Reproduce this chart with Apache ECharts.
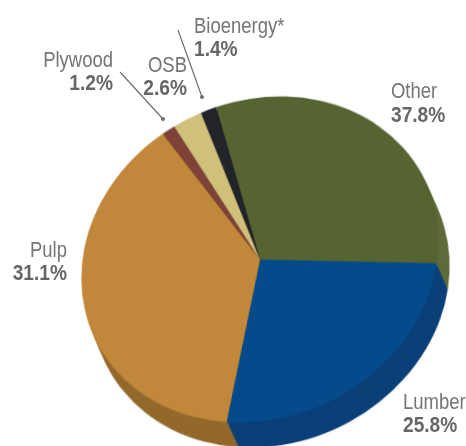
<!DOCTYPE html>
<html><head><meta charset="utf-8">
<style>
html,body{margin:0;padding:0;background:#fff;overflow:hidden;width:466px;height:446px}
#pie{position:absolute;left:0;top:0;width:466px;height:486px;transform-origin:0 0}
#labels{position:absolute;left:0;top:0;width:466px;height:446px}
</style>
<script src="https://cdn.jsdelivr.net/npm/echarts@6/dist/echarts.min.js"></script>
</head><body>
<div id="pie"></div><div id="labels"></div>
<script>
// Slices clockwise, starting with the green one, as drawn in the picture.
const categories = ['Other','Lumber','Pulp','Plywood','OSB','Bioenergy*'];
// Printed on the picture next to each category name
const printedLabels = ['37.8%','25.8%','31.1%','1.2%','2.6%','1.4%'];
// The drawn size of each slice (the green and gold wedges are drawn as each other's printed share)
const drawnValues = [31.1,25.8,37.8,1.2,2.6,1.4];
const topColors = ['#556431','#054a8a','#c1873a','#7e4238','#cfc07a','#23232a'];
const sideColors = ['#5f6b3a','#0a3f78','#93692b','#5f3028','#a89a5c','#16161a'];

// The face is a tilted ellipse: a circle in the pie layer, squashed and sheared by CSS.
const S = 0.9185, C = -0.115;
const SCREEN_CX = 260, SCREEN_CY = 259.5, R = 177.5, SCREEN_DX = 11, SCREEN_DY = 25, START = 110.8;
const CY = 243, CX = 233;
const pieEl = document.getElementById('pie');
pieEl.style.transform = `matrix(1,0,${C},${S},${SCREEN_CX - CX - C*CY},${SCREEN_CY - S*CY})`;
const DY = SCREEN_DY / S, DX = SCREEN_DX - C * DY;

const data = (cols) => categories.map((n,i)=>({name:n,value:drawnValues[i],itemStyle:{color:cols[i]}}));
const series = [];
const steps = 10;
for (let k = steps; k >= 0; k--) {
  series.push({
    type:'pie', silent:true, animation:false, clockwise:true, startAngle:START,
    radius:[0,R], center:[CX + DX*k/steps, CY + DY*k/steps],
    minAngle:0, label:{show:false}, labelLine:{show:false},
    data: data(k===0 ? topColors : sideColors),
    itemStyle:{borderWidth:0}
  });
}
const pie = echarts.init(pieEl,null,{renderer:'canvas'});
pie.setOption({animation:false,backgroundColor:'transparent',series});

const FONT = '"Liberation Sans",sans-serif';
const anchors = [
  {x:391,y:92,y2:116,a:'left'},
  {x:403,y:403,y2:426,a:'left'},
  {x:67,y:251,y2:274,a:'right'},
  {x:113,y:61,y2:84,a:'right'},
  {x:187,y:66,y2:89,a:'right'},
  {x:194,y:27,y2:50,a:'left'}
];
const els = [];
categories.forEach((n,i)=>{
  const p = anchors[i];
  els.push({type:'text',x:p.x,y:p.y,scaleX:0.84,style:{text:n,align:p.a,verticalAlign:'middle',fill:'#757575',font:'22px '+FONT}});
  els.push({type:'text',x:p.x,y:p.y2,scaleX:0.87,style:{text:printedLabels[i],align:p.a,verticalAlign:'middle',fill:'#666666',font:'bold 22px '+FONT}});
});
[[120,72,163,119],[178,30,202,97]].forEach(l=>{
  els.push({type:'line',shape:{x1:l[0],y1:l[1],x2:l[2],y2:l[3]},style:{stroke:'#6e6e6e',lineWidth:1.2}});
  els.push({type:'circle',shape:{cx:l[2],cy:l[3],r:2},style:{fill:'#6e6e6e'}});
});
const lab = echarts.init(document.getElementById('labels'));
lab.setOption({animation:false,backgroundColor:'transparent',graphic:{elements:els}});
</script>
</body></html>
